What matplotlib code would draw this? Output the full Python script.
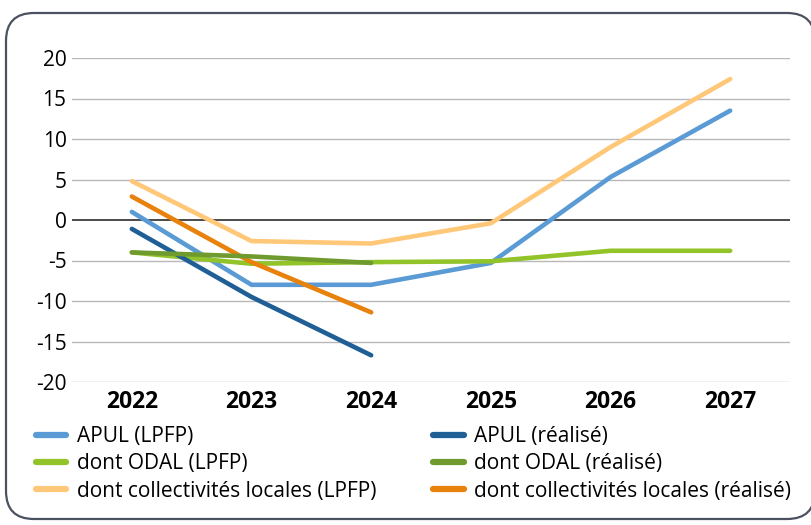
import matplotlib.pyplot as plt
from matplotlib.patches import FancyBboxPatch
from matplotlib.lines import Line2D

plt.rcParams['font.family'] = ['Open Sans', 'DejaVu Sans']
plt.rcParams['axes.unicode_minus'] = False

annees = ["2022", "2023", "2024", "2025", "2026", "2027"]

apul_lpfp = [1.0, -8.0, -8.0, -5.3, 5.3, 13.5]
apul_real = [-1.1, -9.5, -16.7]
odal_lpfp = [-4.0, -5.4, -5.2, -5.1, -3.8, -3.8]
odal_real = [-4.0, -4.5, -5.3]
coll_lpfp = [4.8, -2.6, -2.9, -0.4, 9.0, 17.4]
coll_real = [2.9, -5.2, -11.4]

series = [
    ("APUL (LPFP)", apul_lpfp, "#5b9bd5"),
    ("dont ODAL (LPFP)", odal_lpfp, "#92c42a"),
    ("dont collectivités locales (LPFP)", coll_lpfp, "#ffc878"),
    ("APUL (réalisé)", apul_real, "#1f5f96"),
    ("dont ODAL (réalisé)", odal_real, "#6f9a2e"),
    ("dont collectivités locales (réalisé)", coll_real, "#e8820c"),
]
# ordre de tracé (le réalisé par-dessus)
ordre = [2, 0, 1, 3, 5, 4]

fig = plt.figure(figsize=(8.12, 5.25), dpi=100)

# cadre arrondi (coordonnées en pouces)
cadre = FancyBboxPatch((0.06, 0.06), 8.09, 5.06,
                       boxstyle="round,pad=0,rounding_size=0.28",
                       transform=fig.dpi_scale_trans, facecolor="white",
                       edgecolor="#4a5160", linewidth=1.6, zorder=-5)
fig.patches.append(cadre)

ax = fig.add_axes([72 / 812, 1 - 382 / 525, 718 / 812, 324 / 525])
ax.set_zorder(2)
ax.set_facecolor("none")

x = list(range(len(annees)))
for i in ordre:
    nom, vals, coul = series[i]
    ax.plot(x[:len(vals)], vals, color=coul, lw=3.3,
            solid_capstyle="round", solid_joinstyle="miter", zorder=3)

ax.set_xlim(-0.5, 5.5)
ax.set_ylim(-20, 20)
ax.set_yticks(range(-20, 21, 5))
ax.set_xticks(x)
ax.set_xticklabels(annees, fontweight="bold", fontsize=16.5)
ax.tick_params(axis="y", length=0, pad=4, labelsize=15)
ax.tick_params(axis="x", length=0, pad=6)
for s in ax.spines.values():
    s.set_visible(False)
for v in range(-20, 21, 5):
    ax.axhline(v, color="#4a4a4a" if v == 0 else "#b8b8b8",
               lw=1.4 if v == 0 else 1.0, zorder=1)

handles = [Line2D([], [], color=c, lw=4.5, solid_capstyle="round") for _, _, c in series]
labels = [n for n, _, _ in series]
leg = fig.legend(handles, labels, ncol=2, loc="upper left",
                 bbox_to_anchor=(36 / 812, 1 - 426 / 525), frameon=False,
                 fontsize=15, handlelength=1.45, handletextpad=0.5,
                 columnspacing=2.75, labelspacing=0.3,
                 borderpad=0, borderaxespad=0)
leg.set_zorder(3)

fig.savefig("out.png", dpi=100)
